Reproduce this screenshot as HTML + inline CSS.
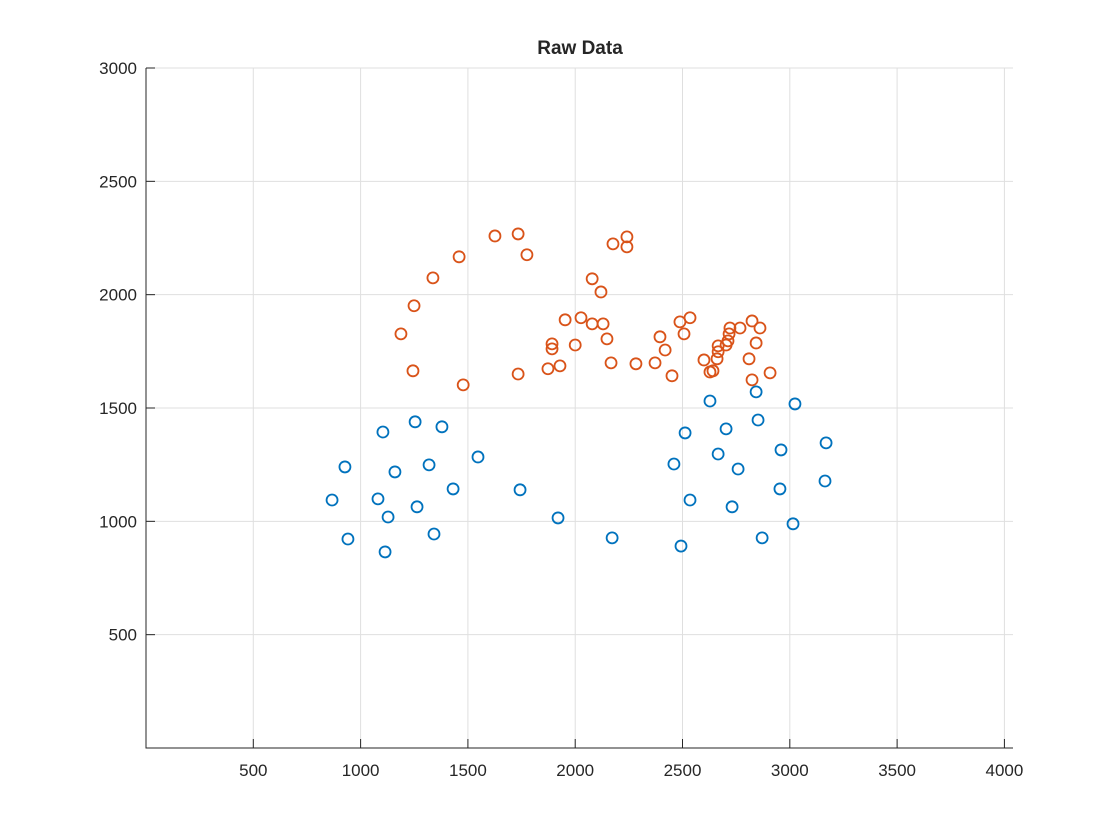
<!DOCTYPE html>
<html><head><meta charset="utf-8"><style>
html,body{margin:0;padding:0;background:#fff;width:1120px;height:840px;overflow:hidden}
svg text{font-family:"Liberation Sans",sans-serif;fill:#262626}
</style></head><body>
<svg id="chart" width="1120" height="840" xmlns="http://www.w3.org/2000/svg"></svg>
<script>
const xTicks=[500,1000,1500,2000,2500,3000,3500,4000];
const yTicks=[500,1000,1500,2000,2500,3000];
const blueX=[867,927,941,1104,1081,1128,1114,1160,1254,1263,1319,1342,1379,1431,1547,1743,1920,2172,2460,2493,2512,2535,2628,2666,2703,2731,2759,2843,2852,2871,2954,2959,3015,3024,3169,3164];
const blueY=[1094,1240,922,1394,1099,1019,865,1218,1439,1064,1249,944,1417,1143,1284,1139,1015,927,1253,891,1390,1094,1531,1297,1408,1064,1231,1571,1447,927,1143,1315,989,1518,1346,1178];
const orangeX=[1188,1244,1249,1337,1459,1478,1626,1734,1734,1775,1873,1892,1892,1929,1953,2000,2027,2079,2079,2120,2130,2148,2167,2176,2241,2241,2283,2372,2395,2419,2451,2488,2507,2535,2600,2628,2642,2661,2666,2666,2703,2712,2717,2721,2768,2810,2824,2824,2843,2861,2908];
const orangeY=[1827,1664,1951,2074,2167,1602,2259,2268,1650,2176,1673,1783,1761,1686,1889,1778,1898,2070,1871,2012,1871,1805,1699,2224,2255,2211,1695,1699,1814,1756,1642,1880,1827,1898,1712,1659,1664,1717,1774,1748,1778,1796,1827,1853,1853,1717,1884,1624,1787,1853,1655];
const L=146,R=1013,T=68,B=748,XMAX=4040,YMAX=3000;
const sx=v=>L+(v/XMAX)*(R-L);
const sy=v=>B-(v/YMAX)*(B-T);
const svg=document.getElementById('chart');
const NS='http://www.w3.org/2000/svg';
function mk(tag,attrs,parent){const e=document.createElementNS(NS,tag);for(const k in attrs)e.setAttribute(k,attrs[k]);(parent||svg).appendChild(e);return e;}
const grid=mk('g',{});


xTicks.forEach(t=>{const x=sx(t);
 const g=mk('line',{x1:x,x2:x,y1:T,y2:B,stroke:'#dfdfdf','stroke-width':1},grid);
 
 
 const tk=mk('line',{x1:x,x2:x,y1:B,y2:B-9,stroke:'#262626','stroke-width':1});
 
 
 const tx=mk('text',{x:x,y:776,'text-anchor':'middle','font-size':17});tx.textContent=t;
 
 
});
yTicks.forEach(t=>{const y=sy(t);
 const g=mk('line',{x1:L,x2:R,y1:y,y2:y,stroke:'#dfdfdf','stroke-width':1},grid);
 
 
 const tk=mk('line',{x1:L,x2:L+9,y1:y,y2:y,stroke:'#262626','stroke-width':1});
 
 
 const tx=mk('text',{x:137,y:y+6,'text-anchor':'end','font-size':17});tx.textContent=t;
 
 
});
const ax=mk('path',{d:`M${L},${T}V${B}H${R}`,fill:'none',stroke:'#262626','stroke-width':1});


function series(xs,ys,color,name){const g=mk('g',{});
 
 
 xs.forEach((v,i)=>{const c=mk('circle',{cx:sx(v),cy:sy(ys[i]),r:5.5,fill:'none',stroke:color,'stroke-width':1.8},g);
  
  });}
series(blueX,blueY,'#0072BD','series-blue');
series(orangeX,orangeY,'#D95319','series-orange');
const title=mk('text',{x:580,y:54,'text-anchor':'middle','font-size':19,'font-weight':'bold'});
title.textContent='Raw Data';


</script>
</body></html>
